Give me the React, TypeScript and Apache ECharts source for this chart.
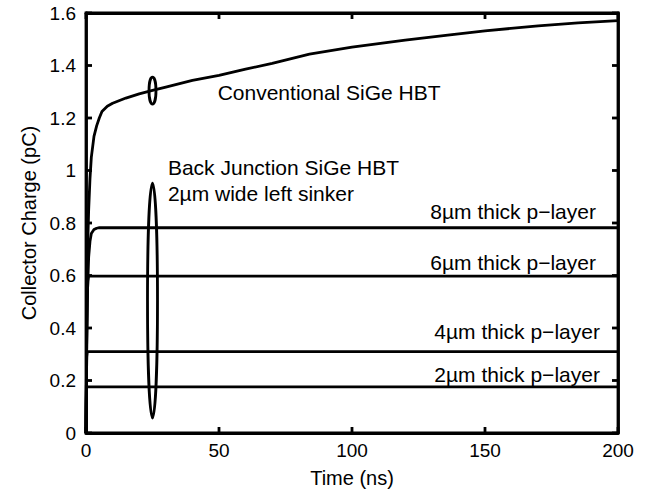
import React, { useEffect, useRef } from "react";
import * as echarts from "echarts";

const conventionalT = [0, 0.3, 0.6, 1, 1.5, 2, 3, 4, 5, 6, 8, 10, 15, 20, 25, 30, 40, 50, 60, 70, 84, 100, 120, 136, 150, 170, 185, 200];
const conventionalQ = [0, 0.4, 0.7, 0.85, 0.97, 1.05, 1.13, 1.17, 1.2, 1.225, 1.245, 1.256, 1.276, 1.292, 1.305, 1.318, 1.343, 1.362, 1.386, 1.408, 1.443, 1.47, 1.497, 1.516, 1.532, 1.551, 1.562, 1.571];

const p8T = [0, 0.3, 0.6, 1, 1.5, 2, 3, 4, 5, 200];
const p8Q = [0, 0.35, 0.55, 0.67, 0.73, 0.76, 0.775, 0.78, 0.782, 0.782];
const p6T = [0, 0.2, 0.4, 0.7, 1, 200];
const p6Q = [0, 0.3, 0.5, 0.58, 0.598, 0.598];
const p4T = [0, 0.15, 0.3, 0.5, 200];
const p4Q = [0, 0.2, 0.29, 0.31, 0.31];
const p2T = [0, 0.1, 0.2, 0.4, 200];
const p2Q = [0, 0.12, 0.17, 0.176, 0.176];

const xTicks = [0, 50, 100, 150, 200];
const yTicks = [0, 0.2, 0.4, 0.6, 0.8, 1, 1.2, 1.4, 1.6];

const zip = (t: number[], q: number[]) => t.map((v, i) => [v, q[i]]);

const FONT = "Liberation Sans, Arial, Helvetica, sans-serif";
const LW = 2.8;
const TICK = 6;

export default function App() {
  const ref = useRef<HTMLDivElement>(null);
  useEffect(() => {
    if (!ref.current) return;
    const chart = echarts.init(ref.current, null, { renderer: "svg" });
    const mk = (name: string, t: number[], q: number[]) => ({
      name,
      type: "line",
      data: zip(t, q),
      showSymbol: false,
      symbol: "none",
      lineStyle: { color: "#000", width: LW },
      smooth: false,
      z: 3,
    });
    const axisBase = (position: string, max: number, interval: number) => ({
      type: "value",
      min: 0,
      max,
      interval,
      position,
      axisLine: { show: true, onZero: false, lineStyle: { color: "#000", width: LW } },
      axisTick: { show: false },
      splitLine: { show: false },
    });
    chart.setOption({
      animation: false,
      backgroundColor: "#fff",
      grid: {
        left: 86,
        top: 13,
        right: 29,
        bottom: 61,
        outerBoundsMode: "none",
        containLabel: false,
        show: true,
        borderColor: "#000",
        borderWidth: LW,
      },
      xAxis: [
        {
          ...axisBase("bottom", 200, 50),
          name: "Time (ns)",
          nameLocation: "middle",
          nameGap: 35,
          nameTextStyle: { fontFamily: FONT, fontSize: 20, color: "#000" },
          axisLabel: { fontFamily: FONT, fontSize: 19, color: "#000", margin: 8, formatter: (v: number) => String(v) },
        },
        {
          ...axisBase("top", 200, 50),
          axisLabel: { show: false },
        },
      ],
      yAxis: [
        {
          ...axisBase("left", 1.6, 0.2),
          name: "Collector Charge (pC)",
          nameLocation: "middle",
          nameGap: 46,
          nameTextStyle: { fontFamily: FONT, fontSize: 20, color: "#000" },
          axisLabel: {
            fontFamily: FONT,
            fontSize: 19,
            color: "#000",
            margin: 10,
            formatter: (v: number) => String(Math.round(v * 10) / 10),
          },
        },
        {
          ...axisBase("right", 1.6, 0.2),
          axisLabel: { show: false },
        },
      ],
      series: [
        mk("Conventional SiGe HBT", conventionalT, conventionalQ),
        mk("8um", p8T, p8Q),
        mk("6um", p6T, p6Q),
        mk("4um", p4T, p4Q),
        mk("2um", p2T, p2Q),
      ],
    });

    const px = (t: number, q: number) => chart.convertToPixel({ gridIndex: 0 }, [t, q]) as number[];
    const seg = (x1: number, y1: number, x2: number, y2: number) => ({
      type: "line",
      shape: { x1, y1, x2, y2 },
      style: { stroke: "#000", lineWidth: LW },
      z: 10,
    });
    const ticks: any[] = [];
    xTicks.forEach((v) => {
      const b = px(v, 0);
      const t = px(v, 1.6);
      ticks.push(seg(b[0], b[1], b[0], b[1] - TICK));
      ticks.push(seg(t[0], t[1], t[0], t[1] + TICK));
    });
    yTicks.forEach((v) => {
      const l = px(0, v);
      const r = px(200, v);
      ticks.push(seg(l[0], l[1], l[0] + TICK, l[1]));
      ticks.push(seg(r[0], r[1], r[0] - TICK, r[1]));
    });
    const ellipse = (t: number, qLo: number, qHi: number, rx: number) => {
      const a = px(t, qLo);
      const b = px(t, qHi);
      return {
        type: "ellipse",
        shape: { cx: a[0], cy: (a[1] + b[1]) / 2, rx, ry: Math.abs(a[1] - b[1]) / 2 },
        style: { fill: "none", stroke: "#000", lineWidth: LW },
        z: 10,
      };
    };
    const text = (t: number, q: number, s: string, align: string) => {
      const p = px(t, q);
      return {
        type: "text",
        x: p[0],
        y: p[1],
        style: { text: s, fill: "#000", font: `21px ${FONT}`, textAlign: align, textVerticalAlign: "middle" },
        z: 10,
      };
    };
    chart.setOption({
      graphic: [
        ...ticks,
        ellipse(25, 1.253, 1.356, 3.5),
        ellipse(25, 0.057, 0.952, 5),
        text(49.5, 1.297, "Conventional SiGe HBT", "left"),
        text(30.8, 1.013, "Back Junction SiGe HBT", "left"),
        text(30.8, 0.914, "2\u00b5m wide left sinker", "left"),
        text(191.7, 0.842, "8\u00b5m thick p\u2212layer", "right"),
        text(191.7, 0.651, "6\u00b5m thick p\u2212layer", "right"),
        text(193.2, 0.385, "4\u00b5m thick p\u2212layer", "right"),
        text(193.2, 0.221, "2\u00b5m thick p\u2212layer", "right"),
      ],
    });
    return () => chart.dispose();
  }, []);
  return <div ref={ref} style={{ position: "absolute", left: 0, top: 0, width: 647, height: 494 }} />;
}
